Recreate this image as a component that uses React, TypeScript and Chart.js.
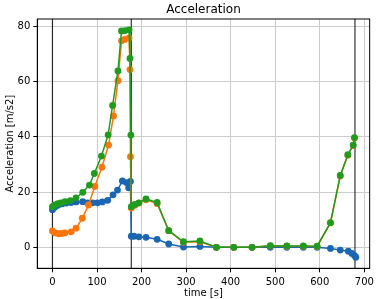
import React, { useEffect, useRef } from "react";
import { Chart, registerables } from "chart.js";

Chart.register(...registerables);

const titleText = "Acceleration";
const xLabel = "time [s]";
const yLabel = "Acceleration [m/s2]";

const xTicks = [0, 100, 200, 300, 400, 500, 600, 700];
const yTicks = [0, 20, 40, 60, 80];
const vLines = [0, 177, 679];

const blueT = [0, 5, 12, 21, 31, 42, 53, 68, 79, 90, 101, 112, 124, 136, 146, 157, 166, 171, 175, 177, 183, 194, 210, 235, 261, 294, 331, 368, 407, 448, 489, 526, 563, 594, 624, 646, 664, 672, 678, 681];
const blueA = [13.6, 14.5, 15.2, 15.7, 16.0, 16.2, 16.4, 16.5, 16.1, 16.1, 16.1, 16.4, 17.0, 19.0, 20.7, 24.0, 23.4, 21.5, 23.8, 4.0, 4.0, 3.8, 3.6, 2.9, 1.2, 0.1, 0.3, 0.0, 0.0, 0.0, 0.0, 0.0, 0.0, 0.0, -0.4, -1.0, -1.4, -2.2, -3.0, -3.6];

const orangeT = [0, 6, 14, 21, 28, 42, 53, 67, 81, 95, 111, 126, 137, 147, 155, 162, 172, 174, 175, 177, 185, 194, 210, 235, 261, 294, 331, 368, 407, 448, 489, 526, 563, 594, 624, 646, 663, 675, 678];
const orangeA = [5.9, 5.2, 4.9, 5.0, 5.2, 5.6, 6.9, 10.5, 15.3, 22.0, 29.0, 37.0, 47.5, 60.3, 74.7, 75.2, 75.8, 64.3, 32.8, 14.2, 15.2, 16.0, 17.2, 15.8, 6.0, 1.8, 2.0, 0.0, 0.0, 0.0, 0.5, 0.4, 0.4, 0.3, 8.8, 25.8, 33.3, 36.8, 39.5];

const greenT = [0, 5, 12, 19, 28, 40, 53, 68, 83, 94, 110, 125, 135, 147, 155, 163, 172, 174, 176, 177, 185, 194, 210, 235, 261, 294, 331, 368, 407, 448, 489, 526, 563, 594, 624, 646, 663, 675, 678];
const greenA = [14.7, 15.3, 15.8, 16.1, 16.5, 16.9, 17.9, 19.9, 22.5, 26.7, 33.0, 40.7, 51.3, 63.8, 78.3, 78.4, 78.7, 68.3, 40.6, 14.7, 15.5, 16.1, 17.5, 16.2, 6.0, 2.0, 2.3, 0.0, 0.0, 0.0, 0.6, 0.5, 0.5, 0.4, 8.9, 26.0, 33.5, 37.0, 39.7];

const FONT = "'DejaVu Sans', sans-serif";

const pts = (t: number[], a: number[]) => t.map((x, i) => ({ x, y: a[i] }));

const framePlugin = {
  id: "frame",
  beforeDatasetsDraw(chart: any) {
    const { ctx, chartArea, scales } = chart;
    ctx.save();
    ctx.strokeStyle = "rgba(0,0,0,0.8)";
    ctx.lineWidth = 1.2;
    vLines.forEach((v) => {
      const px = scales.x.getPixelForValue(v);
      ctx.beginPath();
      ctx.moveTo(px, chartArea.top);
      ctx.lineTo(px, chartArea.bottom);
      ctx.stroke();
    });
    ctx.restore();
  },
  afterDraw(chart: any) {
    const { ctx, chartArea } = chart;
    ctx.save();
    ctx.strokeStyle = "#000";
    ctx.lineWidth = 1;
    ctx.strokeRect(chartArea.left, chartArea.top, chartArea.right - chartArea.left, chartArea.bottom - chartArea.top);
    ctx.restore();
  },
};

export default function App() {
  const ref = useRef<HTMLCanvasElement>(null);
  useEffect(() => {
    if (!ref.current) return;
    const mk = (label: string, t: number[], a: number[], color: string, order: number) => ({
      label,
      data: pts(t, a),
      borderColor: color,
      backgroundColor: color,
      borderWidth: 1.5,
      pointRadius: 3.4,
      pointBorderWidth: 0,
      pointBackgroundColor: color,
      tension: 0,
      order,
    });
    const chart = new Chart(ref.current, {
      type: "line",
      data: {
        datasets: [
          mk("blue", blueT, blueA, "#1a66b2", 2),
          mk("orange", orangeT, orangeA, "#ff750a", 1),
          mk("green", greenT, greenA, "#1f9c1f", 0),
        ],
      },
      options: {
        animation: false,
        responsive: false,
        layout: { padding: { left: 0, right: 4.7, top: 0, bottom: 0 } },
        plugins: {
          legend: { display: false },
          tooltip: { enabled: false },
          title: {
            display: true,
            fullSize: false,
            text: titleText,
            color: "#000",
            font: { family: FONT, size: 12, weight: "normal" },
            padding: { top: 2.5, bottom: 2.1 },
          },
        },
        scales: {
          x: {
            type: "linear",
            min: -34,
            max: 712,
            afterBuildTicks: (s: any) => {
              s.ticks = xTicks.map((v) => ({ value: v }));
            },
            afterFit: (s: any) => {
              s.height = 30.7;
            },
            ticks: { color: "#000", font: { family: FONT, size: 10 }, padding: 4, maxRotation: 0, autoSkip: false },
            grid: { color: "#cccccc", lineWidth: 1, tickColor: "#000", tickLength: 4, drawTicks: true },
            border: { display: true, color: "#000", width: 1 },
            title: { display: true, text: xLabel, color: "#000", font: { family: FONT, size: 10 }, padding: { top: 0, bottom: 0 } },
          },
          y: {
            type: "linear",
            min: -7.6,
            max: 82.6,
            afterBuildTicks: (s: any) => {
              s.ticks = yTicks.map((v) => ({ value: v }));
            },
            afterFit: (s: any) => {
              s.width = 37.3;
            },
            ticks: { color: "#000", font: { family: FONT, size: 10 }, padding: 3, autoSkip: false },
            grid: { color: "#cccccc", lineWidth: 1, tickColor: "#000", tickLength: 4, drawTicks: true },
            border: { display: true, color: "#000", width: 1 },
            title: { display: true, text: yLabel, color: "#000", font: { family: FONT, size: 10 }, padding: { top: 4, bottom: 0 } },
          },
        },
      },
      plugins: [framePlugin],
    } as any);
    return () => chart.destroy();
  }, []);
  return (
    <div style={{ position: "absolute", left: 0, top: 0, width: 378, height: 299, background: "#fff" }}>
      <canvas ref={ref} width={378} height={299} style={{ display: "block" }} />
    </div>
  );
}
